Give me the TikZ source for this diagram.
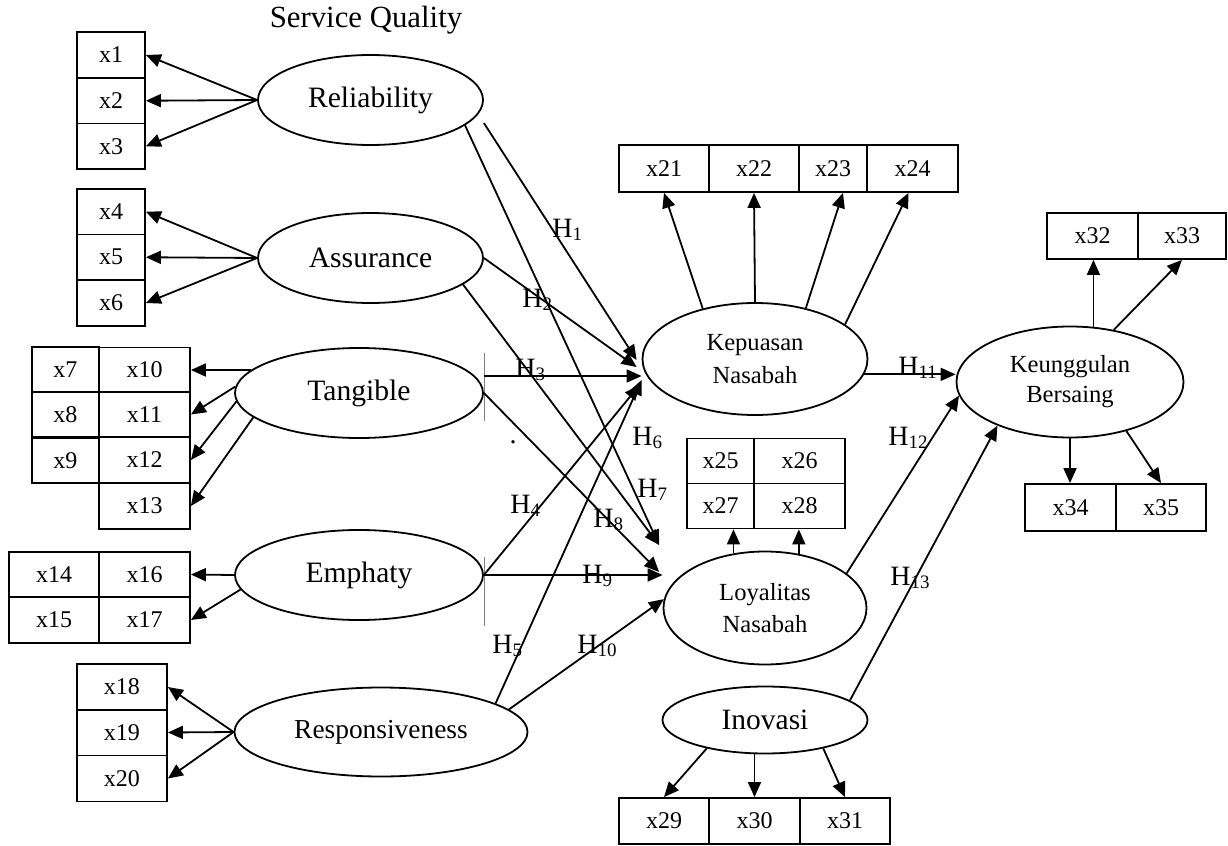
\documentclass[tikz,border=0pt]{standalone}
\usepackage{fontspec}
\setmainfont{Liberation Serif}
\usetikzlibrary{shapes.geometric,arrows.meta,calc}
\newcommand\hsub[1]{\raisebox{-1.5pt}{\fontsize{9.5}{10}\selectfont #1}}
\begin{document}
\begin{tikzpicture}[x=0.5pt,y=-0.5pt,
  lv/.style={ellipse,draw,line width=0.9pt,inner sep=0pt,align=center},
  bx/.style={rectangle,draw,line width=0.9pt,inner sep=0pt,font=\fontsize{12}{14}\selectfont},
  con/.style={line width=0.9pt,-{Triangle[length=7.5pt,width=6.5pt]}},
  hl/.style={anchor=base west,inner sep=0pt,font=\fontsize{14}{16}\selectfont},
  tickline/.style={line width=0.5pt,draw=gray}]
\useasboundingbox (0,0) rectangle (1228,846);

% title
\node[font=\fontsize{15.4}{18}\selectfont] (title) at (366,20) {Service Quality};

% latent variables
\node[lv,minimum width=112.5pt,minimum height=45pt,font=\fontsize{14.8}{17}\selectfont] (rel) at (370.5,100) {Reliability};
\node[lv,minimum width=112.5pt,minimum height=45pt,font=\fontsize{14.8}{17}\selectfont] (ass) at (370.5,258) {Assurance};
\node[lv,minimum width=124pt,minimum height=45pt,font=\fontsize{14.8}{17}\selectfont] (tang) at (359,393) {Tangible};
\node[lv,minimum width=124pt,minimum height=45pt,font=\fontsize{14.8}{17}\selectfont] (emph) at (359,575) {Emphaty};
\node[lv,minimum width=146.5pt,minimum height=44.5pt,font=\fontsize{13.7}{16}\selectfont] (resp) at (381,732) {Responsiveness};
\node[lv,minimum width=112.5pt,minimum height=56pt,font=\fontsize{12.3}{16.5}\selectfont] (kep) at (755,359) {Kepuasan\\Nasabah};
\node[lv,minimum width=101.5pt,minimum height=56.5pt,font=\fontsize{12.3}{16}\selectfont] (loy) at (765,608) {Loyalitas\\Nasabah};
\node[lv,minimum width=102.5pt,minimum height=33.5pt,font=\fontsize{14.75}{17}\selectfont] (ino) at (765,720) {Inovasi};
\node[lv,minimum width=113.5pt,minimum height=55.5pt,font=\fontsize{12.3}{15}\selectfont] (keu) at (1070,382) {Keunggulan\\Bersaing};

% indicator boxes
\node[bx,minimum width=34pt,minimum height=22.8pt] (x1) at (111,55) {x1};
\node[bx,minimum width=34pt,minimum height=22.8pt] (x2) at (111,100.75) {x2};
\node[bx,minimum width=34pt,minimum height=22.8pt] (x3) at (111,146.25) {x3};
\node[bx,minimum width=34pt,minimum height=22.8pt] (x4) at (111,211.75) {x4};
\node[bx,minimum width=34pt,minimum height=22.8pt] (x5) at (111,257.25) {x5};
\node[bx,minimum width=34pt,minimum height=22.8pt] (x6) at (111,303) {x6};
\node[bx,minimum width=33.5pt,minimum height=22.75pt] (x7) at (65.5,369.5) {x7};
\node[bx,minimum width=33.5pt,minimum height=22.75pt] (x8) at (65.5,414.5) {x8};
\node[bx,minimum width=33.5pt,minimum height=22.75pt] (x9) at (65.5,460.5) {x9};
\node[bx,minimum width=45.5pt,minimum height=22.5pt] (x10) at (144.5,370) {x10};
\node[bx,minimum width=45.5pt,minimum height=22.5pt] (x11) at (144.5,414.5) {x11};
\node[bx,minimum width=45.5pt,minimum height=22.75pt] (x12) at (144.5,460) {x12};
\node[bx,minimum width=45.5pt,minimum height=23pt] (x13) at (144.5,506) {x13};
\node[bx,minimum width=45pt,minimum height=22.75pt] (x14) at (54,574.5) {x14};
\node[bx,minimum width=45pt,minimum height=22.75pt] (x15) at (54,620) {x15};
\node[bx,minimum width=45.5pt,minimum height=22.75pt] (x16) at (144.5,574.5) {x16};
\node[bx,minimum width=45.5pt,minimum height=22.75pt] (x17) at (144.5,620) {x17};
\node[bx,minimum width=45pt,minimum height=23pt] (x18) at (122,687) {x18};
\node[bx,minimum width=45pt,minimum height=23pt] (x19) at (122,732.5) {x19};
\node[bx,minimum width=45pt,minimum height=23pt] (x20) at (122,778.5) {x20};
\node[bx,minimum width=45pt,minimum height=23.5pt] (x21) at (664,168.5) {x21};
\node[bx,minimum width=45pt,minimum height=23.5pt] (x22) at (754,168.5) {x22};
\node[bx,minimum width=34pt,minimum height=23.5pt] (x23) at (833,168.5) {x23};
\node[bx,minimum width=45.5pt,minimum height=23.5pt] (x24) at (912.5,168.5) {x24};
\node[bx,minimum width=33.5pt,minimum height=22.5pt] (x25) at (720.5,461) {x25};
\node[bx,minimum width=45.5pt,minimum height=22.5pt] (x26) at (799.5,461) {x26};
\node[bx,minimum width=33.5pt,minimum height=22.5pt] (x27) at (720.5,506) {x27};
\node[bx,minimum width=45.5pt,minimum height=22.5pt] (x28) at (799.5,506) {x28};
\node[bx,minimum width=45pt,minimum height=23pt] (x29) at (664,821) {x29};
\node[bx,minimum width=45.5pt,minimum height=23pt] (x30) at (754.5,821) {x30};
\node[bx,minimum width=45pt,minimum height=23pt] (x31) at (845,821) {x31};
\node[bx,minimum width=45.5pt,minimum height=23pt] (x32) at (1092.5,236) {x32};
\node[bx,minimum width=44pt,minimum height=23pt] (x33) at (1182,236) {x33};
\node[bx,minimum width=45.5pt,minimum height=23.5pt] (x34) at (1070.5,507.5) {x34};
\node[bx,minimum width=45pt,minimum height=23.5pt] (x35) at (1161,507.5) {x35};

% measurement arrows
\draw[con] (rel.west) -- (x1.east);
\draw[con] (rel.west) -- (x2.east);
\draw[con] (rel.west) -- (x3.east);
\draw[con] (ass.west) -- (x4.east);
\draw[con] (ass.west) -- (x5.east);
\draw[con] (ass.west) -- (x6.east);
\draw[con] (tang.168) -- (x10.east);
\draw[con] (tang.177) -- (x11.east);
\draw[con] (tang.184) -- (x12.east);
\draw[con] (tang.193) -- (x13.east);
\draw[con] (emph.west) -- (x16.east);
\draw[con] (emph.187) -- (x17.east);
\draw[con] (resp.west) -- (x18.east);
\draw[con] (resp.west) -- (x19.east);
\draw[con] (resp.west) -- (x20.east);
\draw[con] (kep.136) -- (x21.south);
\draw[con] (kep.north) -- (x22.south);
\draw[con] (kep.45) -- ([xshift=5pt]x23.south);
\draw[con] (kep.21) -- ([xshift=-2pt]x24.south);
\draw[con] (loy.120) -- (loy.120 |- x27.south);
\draw[con] (loy.58) -- (loy.58 |- x28.south);
\draw[con] (ino.206) -- (x29.north);
\draw[con] (x30.north |- ino.south) -- (x30.north);
\draw[con] (ino.-26) -- (x31.north);
\draw[con] (keu.67) -- (keu.67 |- x32.south);
\draw[con] (keu.50) -- (x33.south);
\draw[con] (keu.south) -- (keu.south |- x34.north);
\draw[con] (keu.-41) -- (x35.north);

% tick marks
\draw[tickline] (484,353) -- (484,421);
\draw[tickline] (484,557) -- (484,626);

% structural paths
\coordinate (h3s) at (484,376);
\draw[con] ([yshift=-11.5pt]rel.east) -- ([xshift=-2.5pt,yshift=-0.5pt]kep.west);
\draw[con] (ass.east) -- ([xshift=-2.5pt,yshift=-4pt]kep.west);
\draw[con] (h3s) -- (h3s -| kep.west);
\draw[con] (emph.east) -- ([xshift=-1pt,yshift=-13pt]kep.west);
\draw[con] (resp.14) -- ([yshift=-10.5pt]kep.west);
\draw[con] (rel.-15) -- ([xshift=-1.75pt,yshift=31.5pt]loy.west);
\draw[con] (ass.-16) -- ([xshift=-1.75pt,yshift=31.5pt]loy.west);
\draw[con] (tang.east) -- ([xshift=-1.75pt,yshift=18pt]loy.west);
\draw[con] (emph.east) -- (emph.east -| loy.west);
\draw[con] (resp.10) -- (loy.175);
\draw[con] (kep.-8) -- (kep.-8 -| keu.west);
\draw[con] (loy.23) -- (keu.187);
\draw[con] (ino.13) -- (keu.211);

% labels
\node[hl] (h1) at (552,237) {H\hsub{1}};
\node[hl] (h2) at (522,307) {H\hsub{2}};
\node[hl] (h3) at (515,377) {H\hsub{3}};
\node[hl] (h4) at (510,513) {H\hsub{4}};
\node[hl] (h5) at (492,653) {H\hsub{5}};
\node[hl] (h6) at (632,445) {H\hsub{6}};
\node[hl] (h7) at (637,497) {H\hsub{7}};
\node[hl] (h8) at (593,527) {H\hsub{8}};
\node[hl] (h9) at (582,583) {H\hsub{9}};
\node[hl] (h10) at (577,653) {H\hsub{10}};
\node[hl] (h11) at (898,375) {H\hsub{11}};
\node[hl] (h12) at (888,445) {H\hsub{12}};
\node[hl] (h13) at (890,585) {H\hsub{13}};
\node[font=\fontsize{14}{16}\selectfont,inner sep=0pt] (dot) at (513,442) {.};
\end{tikzpicture}
\end{document}
